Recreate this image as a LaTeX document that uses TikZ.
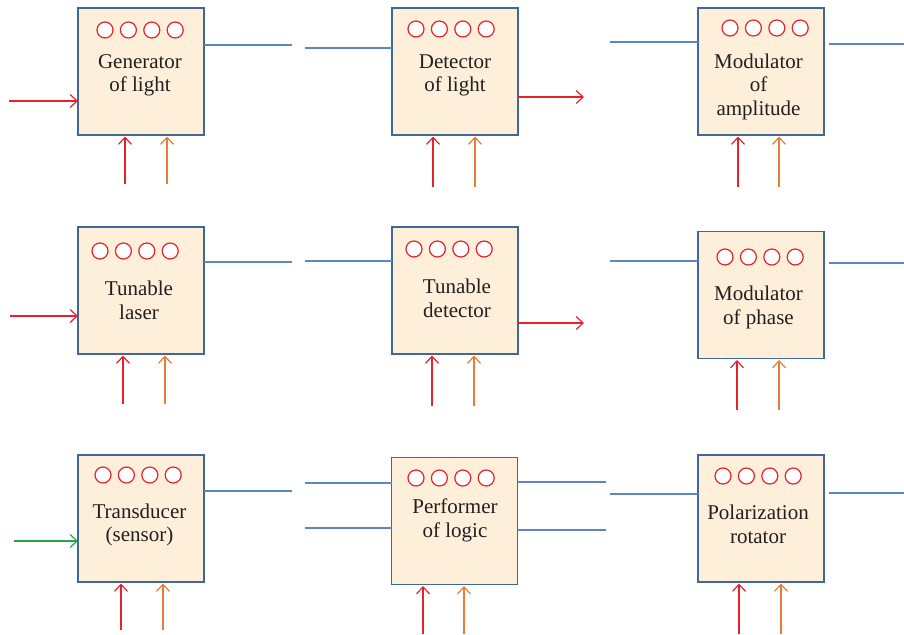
\documentclass[tikz,border=0pt]{standalone}
\usepackage{fontspec}
\setmainfont{Liberation Serif}
\usetikzlibrary{arrows.meta}
\definecolor{boxfill}{HTML}{FDEFDA}
\definecolor{boxline}{HTML}{41669A}
\definecolor{wireblue}{HTML}{5B87C2}
\definecolor{sigred}{HTML}{E8222B}
\definecolor{sigorange}{HTML}{EB7B35}
\definecolor{siggreen}{HTML}{25A74A}
\definecolor{inktext}{HTML}{231F20}
\tikzset{
  block/.style={draw=boxline, fill=boxfill, line width=1.3pt, minimum width=126pt, minimum height=127pt, inner sep=0pt, outer sep=0pt},
  lamp/.style={circle, draw=sigred, fill=white, line width=1.2pt, minimum size=16pt, inner sep=0pt},
  blocktext/.style={align=center, inner sep=0pt, text=inktext, font=\fontsize{21}{23.5}\selectfont},
  wire/.style={draw=wireblue, line width=1.4pt},
  sig/.style={line width=1.2pt, -{Straight Barb[length=7pt,width=13pt]}},
  redarr/.style={sig, draw=sigred},
  orarr/.style={sig, draw=sigorange},
  grarr/.style={sig, draw=siggreen}
}
\begin{document}
\begin{tikzpicture}[x=1pt,y=-1pt]
\useasboundingbox (0,0) rectangle (904,634);
% blocks: name / centre / first lamp / text base
\foreach \n/\x/\y/\cx/\cy/\tx/\ty/\t in {
  gen/141/71.5/105/30/140/91.7/{Generator\\of light},
  det/455/71.5/416/29/455/92/{Detector\\of light},
  modA/761/71.5/730/28/758.5/115/{Modulator\\of\\amplitude},
  tlas/141/290.5/100/251/139/319/{Tunable\\laser},
  tdet/455/290.5/414/249/457/317/{Tunable\\detector},
  modP/761/295/725/257/758.5/324/{Modulator\\of phase},
  trans/141/518.5/103/475/139.5/541.7/{Transducer\\(sensor)},
  logic/454.5/521/416/478/455/537/{Performer\\of logic},
  pol/761/518.5/723/476/758/543/{Polarization\\rotator}} {
  \node[block] (\n) at (\x,\y) {};
  \foreach \i in {0,...,3}
    \node[lamp] (\n-l\i) at ({\cx+\i*23.4},\cy) {};
  \node[blocktext, anchor=base] (\n-t) at (\tx,\ty) {\t};
}
% first row
\coordinate (gen-w) at (292,45);
\coordinate (gen-in) at (9,101);
\draw[wire] (gen-w -| gen.east) -- (gen-w);
\draw[redarr] (gen-in) -- (gen-in -| gen.west);
\coordinate (det-w) at (305,48);
\coordinate (det-out) at (584,97);
\draw[wire] (det-w) -- (det-w -| det.west);
\draw[redarr] (det-out -| det.east) -- (det-out);
\coordinate (modA-w) at (610,42);
\coordinate (modA-e1) at (829,44);
\coordinate (modA-e2) at (904,44);
\draw[wire] (modA-w) -- (modA-w -| modA.west);
\draw[wire] (modA-e1) -- (modA-e2);
% second row
\coordinate (tlas-w) at (292,262);
\coordinate (tlas-in) at (10,316);
\draw[wire] (tlas-w -| tlas.east) -- (tlas-w);
\draw[redarr] (tlas-in) -- (tlas-in -| tlas.west);
\coordinate (tdet-w) at (305,261);
\coordinate (tdet-out) at (584,323);
\draw[wire] (tdet-w) -- (tdet-w -| tdet.west);
\draw[redarr] (tdet-out -| tdet.east) -- (tdet-out);
\coordinate (modP-w) at (610,261);
\coordinate (modP-e1) at (829,263);
\coordinate (modP-e2) at (904,263);
\draw[wire] (modP-w) -- (modP-w -| modP.west);
\draw[wire] (modP-e1) -- (modP-e2);
% third row
\coordinate (trans-w) at (292,491);
\coordinate (trans-in) at (14,541);
\draw[wire] (trans-w -| trans.east) -- (trans-w);
\draw[grarr] (trans-in) -- (trans-in -| trans.west);
\coordinate (logic-w1) at (305,483);
\coordinate (logic-w2) at (305,528);
\coordinate (logic-e1) at (606,482);
\coordinate (logic-e2) at (606,530);
\draw[wire] (logic-w1) -- (logic-w1 -| logic.west);
\draw[wire] (logic-w2) -- (logic-w2 -| logic.west);
\draw[wire] (logic-e1 -| logic.east) -- (logic-e1);
\draw[wire] (logic-e2 -| logic.east) -- (logic-e2);
\coordinate (pol-w) at (610,494);
\coordinate (pol-e1) at (829,493);
\coordinate (pol-e2) at (904,493);
\draw[wire] (pol-w) -- (pol-w -| pol.west);
\draw[wire] (pol-e1) -- (pol-e2);
% control inputs from below
\foreach \n/\r/\o/\b in {gen/125/167/184, det/433/475/187, modA/738/779/187,
  tlas/123/165/404, tdet/432/474/406, modP/737/779/410,
  trans/121/163/630, logic/423/464/634, pol/739/781/634} {
  \coordinate (\n-r) at (\r,\b);
  \coordinate (\n-o) at (\o,\b);
  \draw[redarr, shorten >=1.5pt] (\n-r) -- (\n-r |- \n.south);
  \draw[orarr, shorten >=1.5pt] (\n-o) -- (\n-o |- \n.south);
}
\end{tikzpicture}
\end{document}
